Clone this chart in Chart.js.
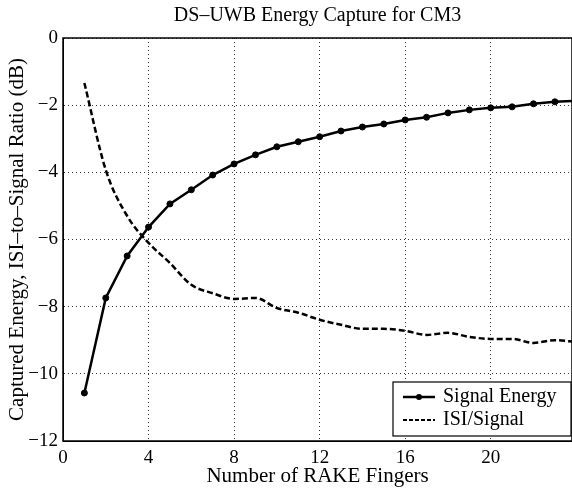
<!DOCTYPE html>
<html>
<head>
<meta charset="utf-8">
<script src="https://cdn.jsdelivr.net/npm/chart.js@4"></script>
<style>
  html, body { margin: 0; padding: 0; background: #fff; overflow: hidden; }
  #wrap { width: 572px; height: 489px; position: relative; }
</style>
</head>
<body>
<div id="wrap"><canvas id="myChart"></canvas></div>
<script>
// data
const fingers = [1, 2, 3, 4, 5, 6, 7, 8, 9, 10, 11, 12, 13, 14, 15, 16, 17, 18, 19, 20, 21, 22, 23, 24];
const signalEnergy = [-10.57, -7.74, -6.49, -5.63, -4.94, -4.52, -4.08, -3.75, -3.48, -3.24, -3.09, -2.94,
  -2.77, -2.65, -2.56, -2.44, -2.36, -2.23, -2.14, -2.08, -2.05, -1.96, -1.90, -1.87];
const isiSignal = [-1.34, -3.93, -5.3, -6.1, -6.7, -7.35, -7.6, -7.77, -7.74, -8.04, -8.18, -8.39,
  -8.54, -8.66, -8.66, -8.72, -8.84, -8.78, -8.9, -8.96, -8.96, -9.08, -9.0, -9.05];
const seriesNames = ["Signal Energy", "ISI/Signal"];
const xTicks = [0, 4, 8, 12, 16, 20];
const yTicks = [0, -2, -4, -6, -8, -10, -12];

const serif = "'Liberation Serif', 'DejaVu Serif', serif";
const minus = (v) => String(v).replace("-", "\u2212");

// frame round the plot + legend box in the lower right corner
const framePlugin = {
  id: "frame",
  afterDraw(chart) {
    const ctx = chart.ctx;
    const a = chart.chartArea;
    ctx.save();
    ctx.strokeStyle = "#000";
    ctx.lineWidth = 1.5;
    ctx.strokeRect(a.left, a.top, a.right - a.left, a.bottom - a.top);

    // legend
    const w = 178, h = 54;
    const x0 = a.right - w - 1, y0 = a.bottom - h - 5;
    ctx.fillStyle = "#fff";
    ctx.fillRect(x0, y0, w, h);
    ctx.lineWidth = 1.2;
    ctx.strokeRect(x0, y0, w, h);
    ctx.font = "20px " + serif;
    ctx.fillStyle = "#000";
    ctx.textBaseline = "middle";
    const rows = [y0 + 15, y0 + 38];
    ctx.lineWidth = 2.5;
    ctx.beginPath();
    ctx.moveTo(x0 + 10, rows[0]);
    ctx.lineTo(x0 + 42, rows[0]);
    ctx.stroke();
    ctx.beginPath();
    ctx.arc(x0 + 26, rows[0], 3, 0, Math.PI * 2);
    ctx.fill();
    ctx.lineWidth = 2;
    ctx.setLineDash([4, 2]);
    ctx.beginPath();
    ctx.moveTo(x0 + 10, rows[1]);
    ctx.lineTo(x0 + 42, rows[1]);
    ctx.stroke();
    ctx.setLineDash([]);
    ctx.fillText(seriesNames[0], x0 + 50, rows[0]);
    ctx.fillText(seriesNames[1], x0 + 50, rows[1]);
    ctx.restore();
  }
};

const ctx = document.getElementById("myChart").getContext("2d");
new Chart(ctx, {
  type: "line",
  data: {
    labels: fingers,
    datasets: [
      {
        label: seriesNames[0],
        data: fingers.map((f, i) => ({ x: f, y: signalEnergy[i] })),
        borderColor: "#000",
        backgroundColor: "#000",
        borderWidth: 2.5,
        pointRadius: 3,
        pointBorderWidth: 1,
        pointHoverRadius: 3,
        tension: 0,
      },
      {
        label: seriesNames[1],
        data: fingers.map((f, i) => ({ x: f, y: isiSignal[i] })),
        borderColor: "#000",
        backgroundColor: "#000",
        borderWidth: 2.5,
        borderDash: [6, 3],
        pointRadius: 0,
        cubicInterpolationMode: "monotone",
      },
    ],
  },
  options: {
    responsive: true,
    maintainAspectRatio: false,
    animation: false,
    layout: { autoPadding: false, padding: { left: 7, right: 0, top: 0, bottom: 2.5 } },
    scales: {
      x: {
        type: "linear",
        min: 0,
        max: 23.8,
        afterBuildTicks: (axis) => { axis.ticks = xTicks.map(v => ({ value: v })); },
        afterFit: (axis) => { axis.height = 45.5; axis.paddingRight = 0; axis.paddingLeft = 0; },
        ticks: { color: "#000", font: { family: serif, size: 19, lineHeight: 0.8 }, padding: 9.5 },
        grid: { color: "#000", lineWidth: 0.8, drawTicks: false },
        border: { display: true, color: "#000", dash: [1, 3] },
        title: {
          display: true,
          text: "Number of RAKE Fingers",
          color: "#000",
          font: { family: serif, size: 21, lineHeight: 1 },
          padding: { top: 0, bottom: 0 },
        },
      },
      y: {
        type: "linear",
        min: -12,
        max: 0,
        afterBuildTicks: (axis) => { axis.ticks = yTicks.map(v => ({ value: v })); },
        afterFit: (axis) => { axis.width = 56; },
        ticks: { color: "#000", font: { family: serif, size: 19, lineHeight: 0.8 }, padding: 5, callback: minus },
        grid: { color: "#000", lineWidth: 0.8, drawTicks: false },
        border: { display: true, color: "#000", dash: [1, 3] },
        title: {
          display: true,
          text: "Captured Energy, ISI\u2013to\u2013Signal Ratio (dB)",
          color: "#000",
          font: { family: serif, size: 21, lineHeight: 1 },
          padding: { top: 0, bottom: 0 },
        },
      },
    },
    plugins: {
      legend: { display: false },
      tooltip: { enabled: false },
      title: {
        display: true,
        fullSize: false,
        text: "DS\u2013UWB Energy Capture for CM3",
        color: "#000",
        font: { family: serif, size: 20, weight: "normal", lineHeight: 1.2 },
        padding: { top: 3.5, bottom: 10.5 },
      },
    },
  },
  plugins: [framePlugin],
});
</script>
</body>
</html>
